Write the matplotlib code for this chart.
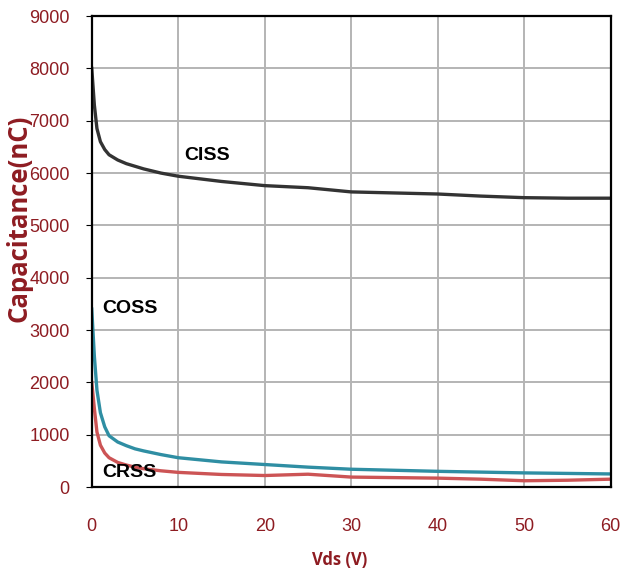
import matplotlib.pyplot as plt

plt.rcParams['font.family'] = ['Liberation Sans', 'DejaVu Sans']

# data
vdsCiss = [0, 0.3, 0.6, 1, 1.5, 2, 3, 4, 5, 6, 8, 10, 15, 20, 25, 30, 35, 40, 45, 50, 55, 60]
ciss = [8000, 7300, 6850, 6600, 6450, 6350, 6250, 6180, 6130, 6080, 6000, 5940, 5840, 5760, 5720, 5640, 5620, 5600, 5560, 5530, 5520, 5520]

vdsCoss = [0, 0.3, 0.6, 1, 1.5, 2, 3, 4, 5, 6, 8, 10, 15, 20, 25, 30, 35, 40, 45, 50, 55, 60]
coss = [3400, 2500, 1850, 1420, 1150, 980, 860, 790, 730, 690, 620, 560, 480, 430, 380, 340, 320, 300, 285, 270, 260, 250]

vdsCrss = [0, 0.3, 0.6, 1, 1.5, 2, 3, 4, 5, 6, 8, 10, 15, 20, 25, 30, 35, 40, 45, 50, 55, 60]
crss = [2000, 1500, 1050, 800, 650, 560, 470, 420, 380, 350, 310, 280, 240, 220, 245, 190, 180, 170, 150, 120, 130, 150]

xTicks = [0, 10, 20, 30, 40, 50, 60]
yTicks = [0, 1000, 2000, 3000, 4000, 5000, 6000, 7000, 8000, 9000]

darkRed = '#8e1c22'

fig = plt.figure(figsize=(6.2, 5.75), dpi=100)
ax = fig.add_axes([0.148, 0.153, 0.837, 0.819])

ax.plot(vdsCiss, ciss, color='#333333', lw=2.4)
ax.plot(vdsCoss, coss, color='#2f8ea3', lw=2.4)
ax.plot(vdsCrss, crss, color='#cc5455', lw=2.4)

ax.text(10.7, 6345, 'CISS', fontsize=14, fontweight='bold', color='black', va='center')
ax.text(1.2, 3420, 'COSS', fontsize=14, fontweight='bold', color='black', va='center')
ax.text(1.2, 270, 'CRSS', fontsize=14, fontweight='bold', color='black', va='center')

ax.set_xlim(0, 60)
ax.set_ylim(0, 9000)
ax.set_xticks(xTicks)
ax.set_yticks(yTicks)
ax.grid(True, color='#b4b4b4', lw=1.4)
ax.set_axisbelow(True)
for s in ax.spines.values():
    s.set_color('black')
    s.set_linewidth(1.6)

ax.tick_params(axis='x', length=0, pad=22, labelsize=13, labelcolor=darkRed)
ax.tick_params(axis='y', length=4, pad=12, labelsize=13, labelcolor=darkRed)

fig.text(0.548, 0.026, 'Vds (V)', fontsize=12, fontweight='bold', color=darkRed,
         family=['Open Sans', 'DejaVu Sans'], ha='center', va='center')
fig.text(0.030, 0.62, 'Capacitance(nC)', fontsize=18.5, fontweight='bold', color=darkRed,
         family=['Open Sans', 'DejaVu Sans'], rotation=90, ha='center', va='center')

fig.savefig('out.png', dpi=100)
